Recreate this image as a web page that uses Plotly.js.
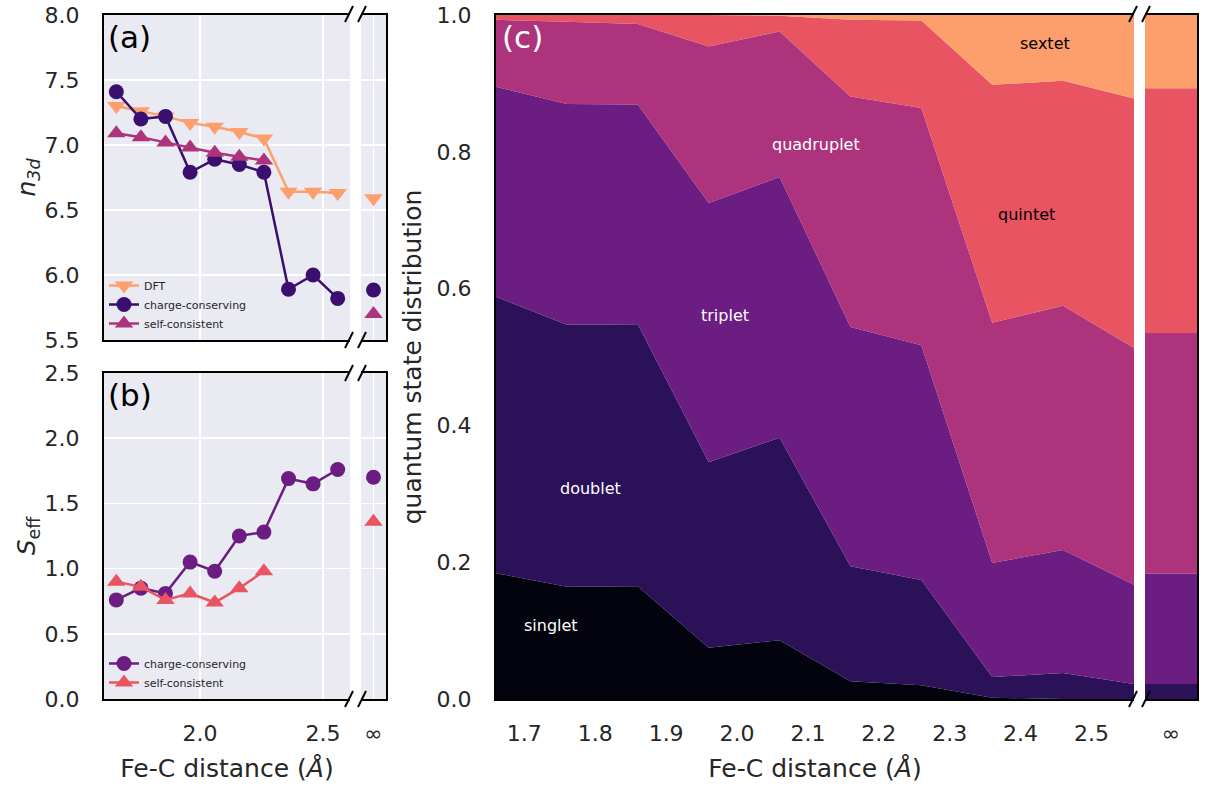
<!DOCTYPE html>
<html><head><meta charset="utf-8">
<script src="https://cdn.plot.ly/plotly-3.0.1.min.js"></script>
<style>html,body{margin:0;padding:0;background:#fff}#chart{width:1209px;height:791px}</style>
</head><body><div id="chart"></div>
<script>
// ---------------- data ----------------
const distance = [1.66, 1.76, 1.86, 1.96, 2.06, 2.16, 2.26, 2.36, 2.46, 2.56];
const distanceSC = [1.66, 1.76, 1.86, 1.96, 2.06, 2.16, 2.26];
const infTick = ['∞'];

// (a) n_3d
const n3dDFT = [7.30, 7.26, 7.22, 7.17, 7.14, 7.10, 7.05, 6.64, 6.64, 6.63];
const n3dCC  = [7.41, 7.20, 7.22, 6.79, 6.89, 6.85, 6.79, 5.89, 6.00, 5.82];
const n3dSC  = [7.09, 7.06, 7.02, 6.98, 6.94, 6.91, 6.88];
const n3dInfDFT = 6.59, n3dInfCC = 5.885, n3dInfSC = 5.70;

// (b) S_eff
const seffCC = [0.76, 0.85, 0.81, 1.05, 0.98, 1.25, 1.28, 1.69, 1.65, 1.76];
const seffSC = [0.90, 0.86, 0.76, 0.81, 0.74, 0.85, 0.98];
const seffInfCC = 1.70, seffInfSC = 1.36;

// (c) quantum state distribution
const states = ['singlet', 'doublet', 'triplet', 'quadruplet', 'quintet', 'sextet'];
const singlet    = [0.184, 0.164, 0.165, 0.075, 0.086, 0.026, 0.020, 0.002, 0.000, 0.000];
const doublet    = [0.404, 0.383, 0.383, 0.271, 0.296, 0.168, 0.154, 0.030, 0.038, 0.022];
const triplet    = [0.307, 0.323, 0.321, 0.379, 0.381, 0.350, 0.343, 0.167, 0.180, 0.145];
const quadruplet = [0.098, 0.120, 0.118, 0.229, 0.213, 0.337, 0.347, 0.351, 0.357, 0.346];
const quintet    = [0.007, 0.010, 0.013, 0.046, 0.023, 0.112, 0.128, 0.348, 0.329, 0.365];
const sextet     = [0.000, 0.000, 0.000, 0.000, 0.001, 0.007, 0.008, 0.102, 0.096, 0.122];
const infDist    = [0.000, 0.022, 0.161, 0.352, 0.358, 0.107]; // singlet..sextet at infinity
// label positions (distance, cumulative fraction)
const labelX = [1.738, 1.793, 1.983, 2.111, 2.409, 2.434];
const labelY = [0.108, 0.308, 0.560, 0.810, 0.709, 0.959];
const labelColor = ['white', 'white', 'white', 'white', 'black', 'black'];

// ---------------- style ----------------
const C = {
  singlet: '#03030d', doublet: '#2a1158', triplet: '#6b1d81',
  quadruplet: '#ad347c', quintet: '#e95462', sextet: '#fd9f6c',
  ccA: '#3b0f70'
};
const stateColors = [C.singlet, C.doublet, C.triplet, C.quadruplet, C.quintet, C.sextet];
const FONT = 'DejaVu Sans';
const TXT = '#262626';
const W = 1209, H = 791;
const fx = p => p / W, fy = p => 1 - p / H;

const traces = [];
// (a)
traces.push({x: distance, y: n3dDFT, xaxis: 'x', yaxis: 'y', mode: 'lines+markers', name: 'DFT',
  line: {color: C.sextet, width: 2.5}, marker: {symbol: 'triangle-down', size: 16, color: C.sextet}, legend: 'legend'});
traces.push({x: distance, y: n3dCC, xaxis: 'x', yaxis: 'y', mode: 'lines+markers', name: 'charge-conserving',
  line: {color: C.ccA, width: 2.5}, marker: {symbol: 'circle', size: 15, color: C.ccA}, legend: 'legend'});
traces.push({x: distanceSC, y: n3dSC, xaxis: 'x', yaxis: 'y', mode: 'lines+markers', name: 'self-consistent',
  line: {color: C.quadruplet, width: 2.5}, marker: {symbol: 'triangle-up', size: 16, color: C.quadruplet}, legend: 'legend'});
traces.push({x: [0], y: [n3dInfDFT], xaxis: 'x2', yaxis: 'y2', mode: 'markers', showlegend: false,
  marker: {symbol: 'triangle-down', size: 16, color: C.sextet}});
traces.push({x: [0], y: [n3dInfCC], xaxis: 'x2', yaxis: 'y2', mode: 'markers', showlegend: false,
  marker: {symbol: 'circle', size: 15, color: C.ccA}});
traces.push({x: [0], y: [n3dInfSC], xaxis: 'x2', yaxis: 'y2', mode: 'markers', showlegend: false,
  marker: {symbol: 'triangle-up', size: 16, color: C.quadruplet}});
// (b)
traces.push({x: distance, y: seffCC, xaxis: 'x3', yaxis: 'y3', mode: 'lines+markers', name: 'charge-conserving',
  line: {color: C.triplet, width: 2.5}, marker: {symbol: 'circle', size: 15, color: C.triplet}, legend: 'legend2'});
traces.push({x: distanceSC, y: seffSC, xaxis: 'x3', yaxis: 'y3', mode: 'lines+markers', name: 'self-consistent',
  line: {color: C.quintet, width: 2.5}, marker: {symbol: 'triangle-up', size: 16, color: C.quintet}, legend: 'legend2'});
traces.push({x: [0], y: [seffInfCC], xaxis: 'x4', yaxis: 'y4', mode: 'markers', showlegend: false,
  marker: {symbol: 'circle', size: 15, color: C.triplet}});
traces.push({x: [0], y: [seffInfSC], xaxis: 'x4', yaxis: 'y4', mode: 'markers', showlegend: false,
  marker: {symbol: 'triangle-up', size: 16, color: C.quintet}});
// (c)
const stackSeries = [singlet, doublet, triplet, quadruplet, quintet, sextet];
stackSeries.forEach((s, i) => {
  traces.push({x: distance, y: s, xaxis: 'x5', yaxis: 'y5', stackgroup: 'main', mode: 'none',
    fillcolor: stateColors[i], line: {width: 0}, name: states[i], showlegend: false});
});
stackSeries.forEach((s, i) => {
  traces.push({x: [-1, 1], y: [infDist[i], infDist[i]], xaxis: 'x6', yaxis: 'y6', stackgroup: 'inf', mode: 'none',
    fillcolor: stateColors[i], line: {width: 0}, name: states[i], showlegend: false});
});

const tickFont = {family: FONT, size: 22, color: TXT};
const titleFont = {family: FONT, size: 25, color: TXT};
const yTick = {ticks: 'outside', ticklen: 18, tickcolor: 'rgba(0,0,0,0)'};
const xTick = {ticks: 'outside', ticklen: 14, tickcolor: 'rgba(0,0,0,0)'};
const frame = {showline: true, linecolor: 'black', linewidth: 2, zeroline: false, automargin: false};
const GRID = {showgrid: true, gridcolor: 'white', gridwidth: 1.6};

const layout = {
  width: W, height: H, margin: {l: 0, r: 0, t: 0, b: 0},
  paper_bgcolor: 'white', plot_bgcolor: '#eaeaf2',
  font: {family: FONT, color: TXT},
  hovermode: false,
  // (a)
  xaxis: Object.assign({domain: [fx(104), fx(350)], anchor: 'y', range: [1.61, 2.61], tick0: 0, dtick: 0.5,
    showticklabels: false, mirror: true}, GRID, frame),
  yaxis: Object.assign({domain: [fy(340), fy(15)], anchor: 'x', range: [5.5, 8.0], dtick: 0.5, tickformat: '.1f',
    tickfont: tickFont,
    title: {text: '<i>n</i><sub><i>3d</i></sub>', font: titleFont, standoff: 2}}, GRID, frame, yTick),
  xaxis2: Object.assign({domain: [fx(361), fx(386)], anchor: 'y2', range: [-1, 1], tickvals: [0], ticktext: infTick,
    showticklabels: false, mirror: true}, GRID, frame),
  yaxis2: Object.assign({domain: [fy(340), fy(15)], anchor: 'x2', side: 'right', range: [5.5, 8.0], dtick: 0.5,
    showticklabels: false}, GRID, frame),
  // (b)
  xaxis3: Object.assign({domain: [fx(104), fx(350)], anchor: 'y3', range: [1.61, 2.61], tick0: 0, dtick: 0.5, tickformat: '.1f',
    mirror: true, tickfont: tickFont,
    title: {text: 'Fe-C distance (<i>Å</i>)', font: titleFont, standoff: 14}}, GRID, frame, xTick),
  yaxis3: Object.assign({domain: [fy(699), fy(373)], anchor: 'x3', range: [0, 2.5], dtick: 0.5, tickformat: '.1f',
    tickfont: tickFont,
    title: {text: '<i>S</i><sub>eff</sub>', font: titleFont, standoff: 2}}, GRID, frame, yTick),
  xaxis4: Object.assign({domain: [fx(361), fx(386)], anchor: 'y4', range: [-1, 1], tickvals: [0], ticktext: infTick,
    mirror: true, tickfont: tickFont}, GRID, frame, xTick),
  yaxis4: Object.assign({domain: [fy(699), fy(373)], anchor: 'x4', side: 'right', range: [0, 2.5], dtick: 0.5,
    showticklabels: false}, GRID, frame),
  // (c)
  xaxis5: Object.assign({domain: [fx(496), fx(1134)], anchor: 'y5', range: [1.66, 2.56], tick0: 0, dtick: 0.1, tickformat: '.1f',
    showgrid: false, mirror: true, tickfont: tickFont,
    title: {text: 'Fe-C distance (<i>Å</i>)', font: titleFont, standoff: 14}}, frame, xTick),
  yaxis5: Object.assign({domain: [fy(699), fy(15)], anchor: 'x5', range: [0, 1], dtick: 0.2, tickformat: '.1f',
    showgrid: false, tickfont: tickFont,
    title: {text: 'quantum state distribution', font: titleFont, standoff: 8}}, frame, yTick),
  xaxis6: Object.assign({domain: [fx(1145), fx(1197)], anchor: 'y6', range: [-1, 1], tickvals: [0], ticktext: infTick,
    showgrid: false, mirror: true, tickfont: tickFont}, frame, xTick),
  yaxis6: Object.assign({domain: [fy(699), fy(15)], anchor: 'x6', side: 'right', range: [0, 1],
    showticklabels: false, showgrid: false}, frame),
  legend: {x: fx(104), y: fy(338), xanchor: 'left', yanchor: 'bottom', bgcolor: 'rgba(0,0,0,0)', traceorder: 'normal',
    font: {family: FONT, size: 11, color: TXT}, tracegroupgap: 0, itemwidth: 30},
  legend2: {x: fx(104), y: fy(697), xanchor: 'left', yanchor: 'bottom', bgcolor: 'rgba(0,0,0,0)', traceorder: 'normal',
    font: {family: FONT, size: 11, color: TXT}, tracegroupgap: 0, itemwidth: 30},
  annotations: [],
  shapes: []
};
// panel labels
[['(a)', 106, 17, 'black'], ['(b)', 106, 375, 'black'], ['(c)', 500, 17, 'white']].forEach(([t, x, y, c]) => {
  layout.annotations.push({text: t, xref: 'paper', yref: 'paper', x: fx(x), y: fy(y), xanchor: 'left', yanchor: 'top',
    showarrow: false, font: {family: FONT, size: 31, color: c}});
});
// state labels
states.forEach((s, i) => {
  layout.annotations.push({text: s, xref: 'x5', yref: 'y5', x: labelX[i], y: labelY[i], showarrow: false,
    font: {family: FONT, size: 16, color: labelColor[i]}});
});
// break marks
function slash(xc, yc) {
  layout.shapes.push({type: 'line', xref: 'paper', yref: 'paper', x0: fx(xc - 4), y0: fy(yc + 8), x1: fx(xc + 4), y1: fy(yc - 8),
    line: {color: 'black', width: 2}});
}
[[350, 361, 14], [350, 361, 340], [350, 361, 373], [350, 361, 699], [1134, 1145, 14], [1134, 1145, 699]].forEach(([a, b, y]) => {
  slash(a - 1, y); slash(b + 1, y);
});

Plotly.newPlot('chart', traces, layout, {staticPlot: true, displayModeBar: false});
</script></body></html>
